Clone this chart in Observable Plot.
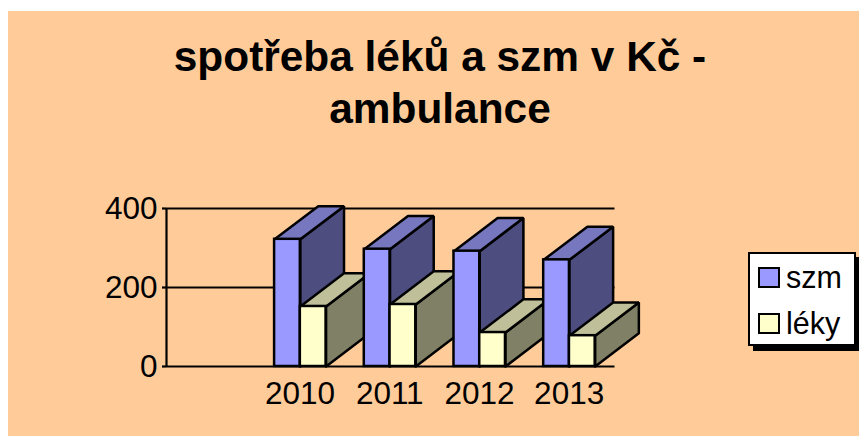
<!DOCTYPE html>
<html>
<head>
<meta charset="utf-8">
<script src="https://cdn.jsdelivr.net/npm/d3@7"></script>
<script src="https://cdn.jsdelivr.net/npm/@observablehq/plot@0.6"></script>
<style>
html,body{margin:0;padding:0;background:#fff;width:859px;height:436px;overflow:hidden;font-family:"Liberation Sans",Arial,sans-serif}
#bg{position:absolute;left:8px;top:11px;width:851px;height:425px;background:#FFCC99}
#title{position:absolute;left:90px;width:700px;top:31px;text-align:center;font-weight:bold;font-size:42.4px;line-height:52px;margin:0;color:#000}
#chart{position:absolute;left:0;top:0}
#legend{position:absolute;left:748px;top:252px;width:104px;height:90px;background:#fff;border:2px solid #000;box-shadow:5px 5px 0 #000}
.row{position:absolute;left:8px;display:flex;align-items:center;height:30px;font-size:30.5px;color:#000}
.sw{width:18px;height:17px;border:2px solid #000;margin-right:6px;flex:none}
</style>
</head>
<body>
<div id="bg"></div>
<div id="chart"></div>
<h1 id="title">spotřeba léků a szm v Kč -<br>ambulance</h1>
<div id="legend"></div>
<script>
const chartTitle = "spotřeba léků a szm v Kč - ambulance";
const years = ["2010", "2011", "2012", "2013"];
const szm = [322, 297, 292, 270];
const leky = [152, 157, 86, 78];
const yTicks = [0, 200, 400];
const seriesNames = ["szm", "léky"];
const szmColors = {front: "#9999FF", top: "#7777BF", side: "#4D4D80"};
const lekyColors = {front: "#FFFFCC", top: "#BFBF99", side: "#808066"};

// oblique depth of the 3D bars, in scale units
const depthX = 0.487;
const depthY = 84;
const barW = 0.287;
const sw = 2.5;

function box(x0, value, colors) {
  const x1 = x0 + barW;
  const side = [[x1,0],[x1+depthX,depthY],[x1+depthX,value+depthY],[x1,value],[x1,0]];
  const top = [[x0,value],[x0+depthX,value+depthY],[x1+depthX,value+depthY],[x1,value],[x0,value]];
  const face = (pts, fill) => Plot.line(pts, {x:d=>d[0], y:d=>d[1], fill, stroke:"#000", strokeWidth:sw, strokeLinejoin:"miter"});
  return [
    face(side, colors.side),
    face(top, colors.top),
    Plot.rectY([{x1:x0, x2:x1, v:value}], {x1:"x1", x2:"x2", y1:0, y2:"v", fill:colors.front, stroke:"#000", strokeWidth:sw})
  ];
}

const marks = [
  Plot.ruleY(yTicks.slice(1), {stroke:"#000", strokeWidth:2.2}),
  Plot.ruleX([0], {stroke:"#000", strokeWidth:2.2}),
  Plot.ruleY([0], {stroke:"#000", strokeWidth:2.2}),
  Plot.axisY({ticks:yTicks, tickSize:4, tickPadding:5, label:null, stroke:"#000", strokeWidth:2.2, fontSize:31.5}),
  Plot.axisX({ticks:years.map((_, i) => i + 1.5), tickFormat:(d) => years[d - 1.5], tickSize:0, tickPadding:15, label:null, fontSize:31.5, dx:-1}),
  ...years.flatMap((_, i) => [
    ...box(i + 1.205, szm[i], szmColors),
    ...box(i + 1.492, leky[i], lekyColors)
  ])
];

const plot = Plot.plot({
  width: 859,
  height: 436,
  marginLeft: 166,
  marginRight: 244.5,
  marginTop: 208,
  marginBottom: 70,
  x: {domain:[0, 5]},
  y: {domain:[0, 400]},
  style: {background:"transparent", fontFamily:"'Liberation Sans',Arial,sans-serif", color:"#000", overflow:"visible"},
  marks
});
document.getElementById("chart").appendChild(plot);

const legend = document.getElementById("legend");
[[seriesNames[0], szmColors.front, 8], [seriesNames[1], lekyColors.front, 54]].forEach(([name, color, top]) => {
  const r = document.createElement("div");
  r.className = "row";
  r.style.top = top + "px";
  const s = document.createElement("span");
  s.className = "sw";
  s.style.background = color;
  r.appendChild(s);
  r.appendChild(document.createTextNode(name));
  legend.appendChild(r);
});
</script>
</body>
</html>
